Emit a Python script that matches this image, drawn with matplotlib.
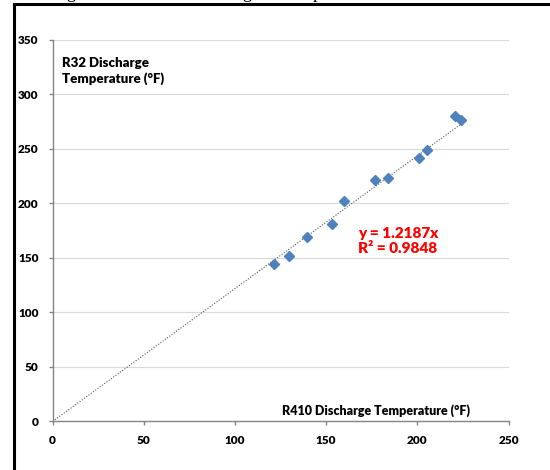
import numpy as np
import matplotlib
matplotlib.use('Agg')
import matplotlib.pyplot as plt

# R410 vs R32 discharge temperatures (deg F)
r410_temp = [121.5, 129.6, 139.6, 153.2, 159.9, 176.9, 184.0, 200.7, 205.3, 220.8, 224.1]
r32_temp = [144.1, 152.0, 168.9, 180.8, 201.9, 221.7, 223.6, 241.4, 248.7, 280.2, 276.2]
slope = 1.2187
r_squared = 0.9848
x_ticks = [0, 50, 100, 150, 200, 250]
y_ticks = [0, 50, 100, 150, 200, 250, 300, 350]

plt.rcParams['font.family'] = ['Lato', 'DejaVu Sans']

fig = plt.figure(figsize=(5.5, 4.7), dpi=100)
ax = fig.add_axes([0.0956, 0.1034, 0.8291, 0.8115])

# trendline through origin
xt = np.array([0, max(r410_temp)])
ax.plot(xt, slope * xt, linestyle=(0, (1, 1.5)), color='#555555', linewidth=0.8, zorder=2)

ax.plot(r410_temp, r32_temp, linestyle='none', marker='D', markersize=4.6,
        color='#4F81BD', markeredgecolor='#4F81BD', zorder=3)

ax.set_xlim(0, 250)
ax.set_ylim(0, 350)
ax.set_xticks(x_ticks)
ax.set_yticks(y_ticks)
ax.grid(axis='y', color='#D9D9D9', linewidth=0.8)
ax.set_axisbelow(True)
for s in ['top', 'right']:
    ax.spines[s].set_visible(False)
for s in ['left', 'bottom']:
    ax.spines[s].set_color('#868686')
    ax.spines[s].set_linewidth(1)
ax.tick_params(axis='both', colors='#868686', length=3, width=1, labelcolor='black',
               labelsize=8.5)
ax.tick_params(axis='x', pad=7)
ax.tick_params(axis='y', pad=7)
for lab in ax.get_xticklabels() + ax.get_yticklabels():
    lab.set_fontweight('heavy')

ax.text(0.02, 0.955, 'R32 Discharge\nTemperature (°F)', transform=ax.transAxes,
        fontsize=9.5, fontweight='heavy', va='top', ha='left', linespacing=1.3)
ax.text(0.915, 0.012, 'R410 Discharge Temperature (°F)', transform=ax.transAxes,
        fontsize=9, fontweight='heavy', va='bottom', ha='right')
ax.text(0.67, 0.473, 'y = %.4fx\nR² = %.4f' % (slope, r_squared), transform=ax.transAxes,
        fontsize=11, fontweight='heavy', color='#FF0000', va='center', ha='left',
        linespacing=1.25)

# document frame around the chart
fig.add_artist(plt.Line2D([14 / 550, 14 / 550], [0, 466 / 470], color='black', linewidth=2.2))
fig.add_artist(plt.Line2D([14 / 550, 1], [466 / 470, 466 / 470], color='black', linewidth=2.2))

# caption text above, cut off at the top edge
for xp, ch in [(66, 'g'), (242, 'g'), (313, 'p')]:
    fig.text(xp / 550, 1.005, ch, fontsize=13, family='Liberation Serif',
             va='baseline', ha='left')

fig.savefig('out.png', dpi=100)
